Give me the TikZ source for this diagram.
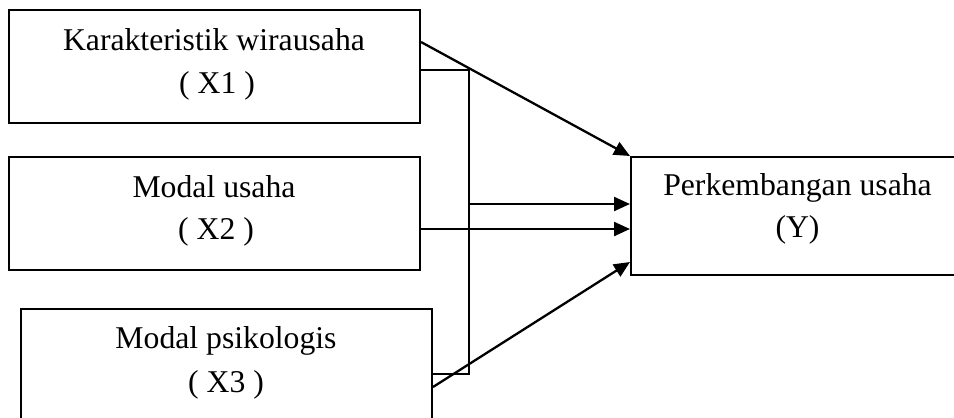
\documentclass[tikz,border=0pt]{standalone}
\usepackage{fontspec}
\setmainfont{Liberation Serif}
\usetikzlibrary{arrows.meta}
\begin{document}
\begin{tikzpicture}[x=1pt,y=-1pt,
  box/.style={draw,line width=2pt,rectangle,inner sep=0pt},
  lbl/.style={anchor=base,inner sep=0pt,font=\fontsize{31.7}{43}\selectfont},
  conn/.style={line width=2.3pt},
  arr/.style={conn,-{Triangle[length=16pt,width=14pt]}}]
\useasboundingbox (0,0) rectangle (954,418);
\clip (0,0) rectangle (954,418);
% boxes
\node[box,minimum width=411pt,minimum height=113pt] (x1) at (214.5,66.5) {};
\node[box,minimum width=411pt,minimum height=113pt] (x2) at (214.5,213.5) {};
\node[box,minimum width=411pt,minimum height=113pt] (x3) at (226.5,365.5) {};
\node[box,minimum width=333pt,minimum height=118pt] (y) at (797.5,216) {};
% texts
\node[lbl] (t1a) at (214,50) {Karakteristik wirausaha};
\node[lbl] (t1b) at (217,93) {( X1 )};
\node[lbl] (t2a) at (214,197) {Modal usaha};
\node[lbl] (t2b) at (216,239) {( X2 )};
\node[lbl] (t3a) at (226,348) {Modal psikologis};
\node[lbl] (t3b) at (226,392) {( X3 )};
\node[lbl] (tya) at (797.5,195) {Perkembangan usaha};
\node[lbl] (tyb) at (797.5,237) {(Y)};
% connector points
\coordinate (b1) at (469,70);
\coordinate (b3) at (469,374);
\coordinate (bm) at (469,204);
% bus
\draw[conn] (x1.east |- b1) -- (b1) -- (b3) -- (x3.east |- b3);
\draw[arr] (bm) -- (y.west |- bm);
\draw[arr] (x2.east |- 0,229) -- (y.west |- 0,229);
\draw[arr] (x1.east |- 0,42) -- (y.north west);
\draw[arr] (x3.east |- 0,387) -- (y.west |- 0,262);
\end{tikzpicture}
\end{document}
